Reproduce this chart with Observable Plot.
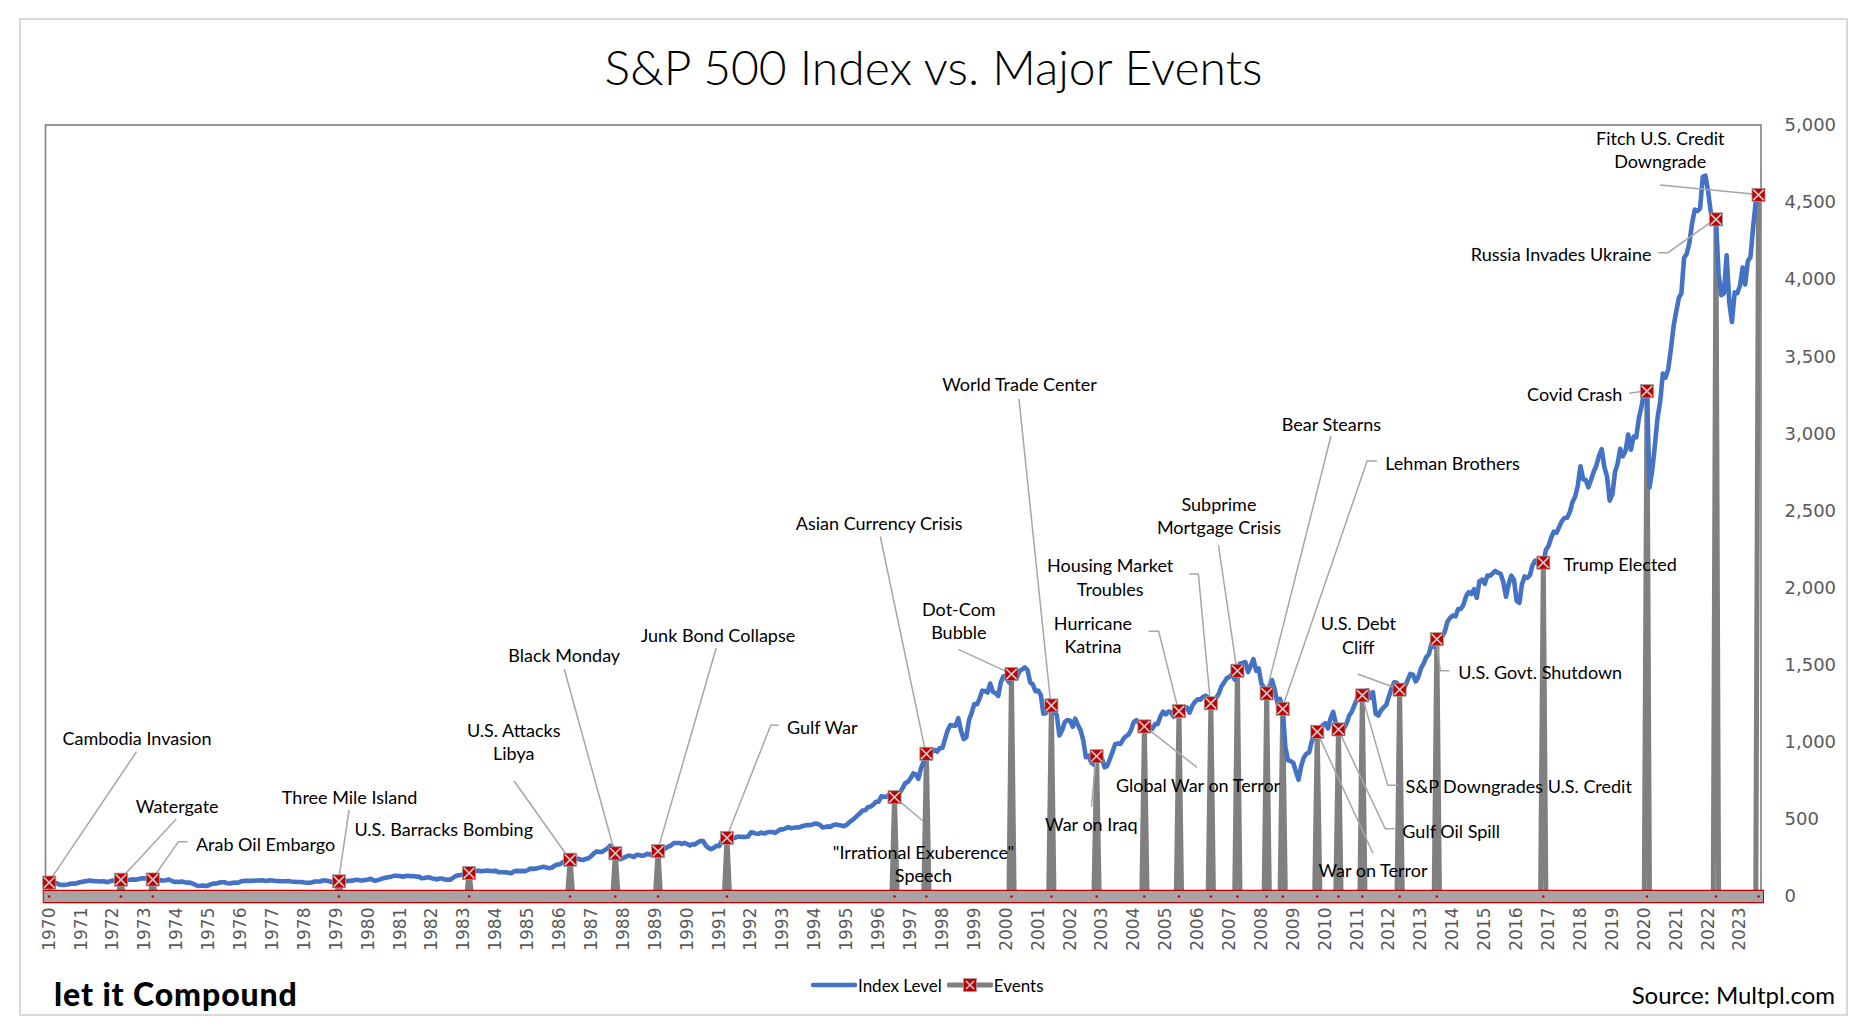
<!DOCTYPE html>
<html>
<head>
<meta charset="utf-8">
<script src="https://cdn.jsdelivr.net/npm/d3@7"></script>
<script src="https://cdn.jsdelivr.net/npm/@observablehq/plot@0.6"></script>
<style>
  html, body { margin: 0; padding: 0; background: #fff; overflow: hidden; }
  #page { position: relative; width: 1867px; height: 1027px; background: #fff; font-family: Lato, "Open Sans", sans-serif; }
  #border { position: absolute; left: 19px; top: 18px; width: 1829px; height: 998px; border: 2px solid #d9d9d9; box-sizing: border-box; }
  #title { position: absolute; left: 0; top: 43px; width: 1867px; text-align: center; font: 300 48px/1 Lato, sans-serif; color: #000; white-space: nowrap; }
  #chart { position: absolute; left: 0; top: 100px; }
  #legend { position: absolute; left: 811px; top: 974px; height: 22px; display: flex; align-items: center; font: 400 17px/1 Lato, sans-serif; color: #000; white-space: nowrap; }
  #logo { position: absolute; left: 54px; top: 978px; font: 900 32px/1 Lato, sans-serif; color: #000; letter-spacing: 0.9px; white-space: nowrap; }
  #source { position: absolute; right: 32px; top: 983px; font: 400 24px/1 Lato, sans-serif; color: #000; white-space: nowrap; }
</style>
</head>
<body>
<div id="page">
  <div id="border"></div>
  <div id="title">S&amp;P 500 Index vs. Major Events</div>
  <div id="chart"></div>
  <div id="legend">
    <svg width="46" height="22"><line x1="2" y1="11" x2="44" y2="11" stroke="#4472C4" stroke-width="4.5" stroke-linecap="round"/></svg>
    <span style="margin-left:1px">Index Level</span>
    <svg width="46" height="22" style="margin-left:5px"><line x1="2" y1="11" x2="44" y2="11" stroke="#808080" stroke-width="5" stroke-linecap="round"/><rect x="16.5" y="4.5" width="13" height="13" fill="#c00000" stroke="#a0a0a0" stroke-width="0.8"/><path d="M19 7 L27 15 M27 7 L19 15" stroke="#c8c8c8" stroke-width="1.6"/></svg>
    <span style="margin-left:1px">Events</span>
  </div>
  <div id="logo">let it Compound</div>
  <div id="source">Source: Multpl.com</div>
</div>
<script>
// ---------------- DATA (monthly S&P 500 levels) ----------------
const startYear = 1970;
const sp1970s = [
  90.3, 87.2, 88.7, 85.9, 76.1, 75.6, 75.7, 77.9, 82.6, 84.4, 83.3, 90.0,
  93.5, 97.1, 99.6, 103.0, 101.6, 99.7, 99.0, 97.2, 99.4, 97.3, 92.8, 99.2,
  103.3, 105.2, 107.7, 108.8, 107.7, 108.0, 107.2, 111.0, 109.4, 109.6, 115.1, 117.5,
  118.4, 114.2, 112.4, 110.3, 107.2, 104.8, 105.8, 103.8, 105.6, 109.8, 102.0, 94.8,
  96.1, 93.5, 97.4, 92.5, 89.7, 89.8, 82.8, 76.0, 68.1, 69.4, 71.7, 67.1,
  72.6, 80.1, 83.8, 84.7, 90.1, 92.4, 92.5, 85.7, 84.7, 88.6, 90.1, 88.7,
  96.9, 100.6, 101.1, 101.9, 101.2, 101.8, 104.2, 103.3, 105.5, 101.9, 101.2, 104.7,
  103.8, 101.0, 100.6, 99.1, 98.8, 99.3, 100.2, 97.8, 96.2, 93.7, 94.3, 93.8,
  90.3, 89.0, 88.8, 92.7, 97.4, 97.7, 97.2, 103.9, 103.9, 100.6, 94.7, 96.1,
  99.7, 98.2, 100.1, 102.1, 99.7, 101.7, 102.7, 107.4, 108.6, 104.5, 103.7, 107.8
];
const sp1980s = [
  110.9, 115.3, 104.7, 103.0, 107.7, 114.6, 119.8, 123.5, 126.5, 130.2, 135.7, 133.5,
  133.0, 128.4, 133.2, 134.4, 131.7, 132.3, 129.1, 129.6, 118.3, 119.8, 122.9, 123.8,
  117.3, 114.5, 110.8, 116.3, 116.4, 109.7, 109.4, 109.7, 122.4, 132.7, 138.1, 139.4,
  144.3, 146.8, 151.9, 157.7, 164.1, 166.4, 166.0, 163.6, 167.0, 167.7, 165.2, 164.4,
  166.4, 157.3, 157.4, 157.6, 156.6, 153.1, 151.1, 164.4, 166.1, 164.8, 166.3, 164.5,
  171.6, 180.9, 179.4, 180.6, 184.9, 188.9, 192.5, 188.3, 184.1, 186.2, 197.5, 207.3,
  208.2, 219.4, 232.3, 238.0, 238.5, 245.3, 240.2, 245.0, 238.3, 237.4, 245.1, 248.6,
  264.5, 280.9, 292.5, 289.3, 289.1, 301.4, 310.1, 329.4, 318.7, 280.2, 245.0, 241.0,
  250.5, 258.1, 265.7, 262.6, 256.1, 270.7, 269.1, 263.7, 268.0, 277.4, 271.0, 276.5,
  285.4, 294.0, 292.7, 302.3, 313.9, 323.7, 331.9, 346.6, 347.3, 347.4, 340.2, 348.6
];
const sp1990s = [
  340.0, 330.5, 338.5, 338.2, 350.3, 360.4, 360.0, 330.8, 315.4, 307.1, 315.3, 328.8,
  325.5, 362.3, 372.3, 379.7, 378.0, 378.3, 380.2, 389.4, 387.2, 386.9, 385.9, 388.5,
  416.1, 412.6, 407.4, 407.4, 414.8, 408.3, 415.1, 417.9, 418.5, 412.5, 422.8, 435.6,
  435.2, 441.7, 450.2, 443.1, 445.3, 448.1, 447.3, 454.1, 459.2, 463.9, 462.9, 466.0,
  473.0, 471.6, 463.8, 447.2, 450.9, 454.8, 451.4, 464.2, 467.0, 463.8, 461.0, 455.2,
  465.3, 481.9, 493.2, 507.9, 523.8, 539.4, 557.4, 559.1, 578.8, 582.9, 595.5, 614.6,
  614.4, 649.5, 647.1, 647.2, 661.2, 668.5, 644.1, 662.7, 674.9, 701.5, 735.7, 743.3,
  766.2, 798.4, 792.2, 763.9, 833.1, 876.3, 925.3, 927.7, 937.0, 951.2, 938.9, 962.4,
  963.4, 1023.7, 1076.8, 1112.2, 1108.4, 1108.4, 1156.6, 1074.6, 1020.6, 1032.5, 1144.4, 1190.1,
  1248.8, 1246.6, 1281.7, 1334.8, 1332.1, 1322.6, 1381.0, 1327.5, 1318.2, 1300.0, 1391.0, 1428.7
];
const sp2000s = [
  1425.6, 1388.9, 1442.2, 1461.4, 1418.5, 1462.0, 1473.0, 1485.5, 1468.1, 1390.1, 1375.0, 1330.9,
  1335.6, 1305.8, 1185.9, 1189.8, 1270.4, 1238.7, 1204.5, 1178.5, 1044.6, 1076.6, 1129.7, 1144.9,
  1140.2, 1100.7, 1153.8, 1112.0, 1079.3, 1014.1, 903.6, 912.6, 867.8, 854.6, 909.9, 899.2,
  895.8, 837.6, 846.6, 890.0, 936.0, 988.0, 992.5, 989.5, 1019.4, 1038.7, 1049.9, 1080.6,
  1132.5, 1143.4, 1124.0, 1133.1, 1102.8, 1132.8, 1105.9, 1088.9, 1117.7, 1118.1, 1168.9, 1199.2,
  1181.4, 1199.6, 1194.9, 1164.4, 1178.3, 1202.3, 1222.2, 1224.3, 1225.9, 1192.0, 1237.4, 1262.1,
  1278.7, 1276.7, 1293.7, 1302.2, 1290.0, 1253.1, 1260.2, 1287.2, 1317.8, 1363.4, 1388.6, 1416.4,
  1424.2, 1444.8, 1407.0, 1463.7, 1511.1, 1514.5, 1520.7, 1454.6, 1497.1, 1539.7, 1463.4, 1479.2,
  1378.8, 1354.9, 1316.9, 1370.5, 1403.2, 1341.3, 1257.3, 1281.5, 1217.0, 968.8, 883.0, 877.6,
  865.6, 805.2, 757.1, 848.2, 902.4, 926.1, 935.8, 1009.7, 1044.6, 1067.7, 1088.1, 1110.4
];
const sp2010s = [
  1123.6, 1089.2, 1152.1, 1197.3, 1125.1, 1083.4, 1079.8, 1087.3, 1122.1, 1171.6, 1198.9, 1241.5,
  1282.6, 1321.1, 1304.5, 1331.5, 1338.3, 1287.3, 1325.2, 1185.3, 1173.9, 1207.2, 1226.4, 1243.3,
  1300.6, 1352.5, 1389.2, 1386.4, 1341.3, 1323.5, 1359.8, 1403.4, 1443.4, 1437.8, 1394.5, 1422.3,
  1480.4, 1512.3, 1550.8, 1570.7, 1639.8, 1618.8, 1668.7, 1670.1, 1687.2, 1720.0, 1783.5, 1807.8,
  1822.4, 1817.0, 1863.5, 1864.3, 1889.8, 1947.1, 1973.1, 1961.5, 1993.2, 1937.3, 2044.6, 2054.3,
  2028.2, 2082.2, 2080.0, 2094.9, 2111.9, 2099.3, 2094.1, 2039.9, 1944.4, 2024.8, 2080.6, 2054.1,
  1918.6, 1904.4, 2022.0, 2075.5, 2065.6, 2083.9, 2148.9, 2177.5, 2157.7, 2143.0, 2165.0, 2246.6,
  2275.1, 2329.9, 2366.8, 2359.3, 2395.4, 2434.0, 2454.1, 2456.2, 2492.8, 2557.0, 2593.6, 2664.3,
  2789.8, 2705.2, 2702.8, 2653.6, 2701.5, 2754.4, 2793.6, 2857.8, 2901.5, 2785.5, 2723.2, 2567.3,
  2607.4, 2754.9, 2804.0, 2903.8, 2854.7, 2890.2, 2996.1, 2897.5, 2982.2, 2977.7, 3104.9, 3176.8
];
const sp2020s = [
  3278.2, 3277.3, 2652.4, 2762.0, 2919.6, 3104.7, 3207.6, 3391.7, 3365.5, 3418.7, 3549.0, 3695.3,
  3793.8, 3883.4, 3910.5, 4141.2, 4167.9, 4238.5, 4363.7, 4454.2, 4445.5, 4460.7, 4667.4, 4674.8,
  4573.8, 4436.0, 4391.3, 4391.3, 4040.4, 3899.0, 3911.7, 4158.6, 3850.5, 3726.1, 3917.5, 3912.4,
  3960.7, 4079.7, 3968.6, 4121.5, 4146.2, 4345.4, 4508.1, 4550.0
];

const eventLabels = [
  "Cambodia Invasion", "Watergate", "Arab Oil Embargo", "Three Mile Island", "U.S. Barracks Bombing",
  "U.S. Attacks\nLibya", "Black Monday", "Junk Bond Collapse", "Gulf War", "\"Irrational Exuberence\"\nSpeech",
  "Asian Currency Crisis", "Dot-Com\nBubble", "World Trade Center", "War on Iraq", "Global War on Terror",
  "Hurricane\nKatrina", "Housing Market\nTroubles", "Subprime\nMortgage Crisis", "Bear Stearns", "Lehman Brothers",
  "War on Terror", "Gulf Oil Spill", "S&P Downgrades U.S. Credit", "U.S. Debt\nCliff", "U.S. Govt. Shutdown",
  "Trump Elected", "Covid Crash", "Russia Invades Ukraine", "Fitch U.S. Credit\nDowngrade"
];
const eventMonths = [
  "1970-01", "1972-04", "1973-04", "1979-02", "1983-03",
  "1986-05", "1987-10", "1989-02", "1991-04", "1996-07",
  "1997-07", "2000-03", "2001-06", "2002-11", "2004-05",
  "2005-06", "2006-06", "2007-04", "2008-03", "2008-09",
  "2009-10", "2010-06", "2011-03", "2012-05", "2013-07",
  "2016-11", "2020-02", "2022-04", "2023-08"
];
const yTickValues = [0, 500, 1000, 1500, 2000, 2500, 3000, 3500, 4000, 4500, 5000];

// ---------------- LAYOUT (label placement offsets in px, relative to each event marker) ----------------
const labelAnchor = ["middle","middle","start","middle","middle","middle","middle","middle","start","middle",
  "middle","middle","middle","middle","start","middle","middle","middle","middle","start",
  "start","start","start","middle","start","start","end","end","middle"];
const labelOffset = [
  [87.8,-145.1],[56.3,-74.2],[43.1,-36.3],[10.6,-85.2],[-25.3,-44.3],
  [-56.4,-118.9],[-51.1,-198.8],[59.9,-216.7],[59.9,-111.8],[29,65.8],
  [-47.2,-231],[-52.6,-54.2],[-31.9,-321.7],[-5.3,67.6],[-28.5,58.4],
  [-86.1,-77.1],[-100.7,-127.1],[-18.5,-155.8],[64.8,-270.3],[102.5,-246.7],
  [1.2,137.9],[63.9,101.1],[43.3,90.5],[-41.3,-55],[21.5,32.6],
  [20.2,0.3],[-24.6,2.7],[-64.5,34.4],[-98.2,-46.1]
];
const leaderPoints = [
  [[87.9,-130.4]], [[55.8,-60.2]], [[26.2,-37.3],[35.1,-37.3]], [[10.6,-70.9]], [],
  [[-55.5,-78.2]], [[-50.6,-183.8]], [[58.6,-202.7]], [[44.3,-112.2],[51.9,-112.2]], [[29,24.3]],
  [[-45.6,-216.8]], [[-52.6,-24.3]], [[-31.9,-306]], [[-4.6,51]], [[53.1,41.4]],
  [[-19.8,-79.3],[-29.8,-79.3]], [[-12,-128.8],[-21.2,-128.8]], [[-18.5,-125.3]], [[64.8,-256.9]], [[84.9,-247.4],[94.7,-247.4]],
  [[56.2,121.9]], [[47.3,99.8],[56.6,99.8]], [[25.9,90.5],[35.9,90.5]], [[-41.3,-15.2]], [[3.9,32],[13.2,32]],
  [], [[-17.3,2.7]], [[-47.5,33.8],[-57.2,33.8]], [[-98.2,-9.4]]
];

// ---------------- BUILD TABLES ----------------
const levels = [].concat(sp1970s, sp1980s, sp1990s, sp2000s, sp2010s, sp2020s);
const index = levels.map((v, i) => ({ date: new Date(Date.UTC(startYear + Math.floor(i / 12), i % 12, 1)), value: v }));
const key = d => d.toISOString().slice(0, 7);
const byMonth = new Map(index.map(d => [key(d.date), d]));
const events = eventMonths.map((m, i) => ({ date: byMonth.get(m).date, value: byMonth.get(m).value, label: eventLabels[i], i }));
const eventByMonth = new Map(events.map(e => [key(e.date), e]));
const eventSeries = index.map(d => ({ date: d.date, value: eventByMonth.has(key(d.date)) ? d.value : 0 }));
const firstDate = index[0].date, lastDate = index[index.length - 1].date;
const yearTicks = d3.utcYear.range(new Date(Date.UTC(1970, 0, 1)), new Date(Date.UTC(2024, 0, 1)));

const labelFont = "Lato, 'Open Sans', sans-serif";

function leaderMark(idx, scales) {
  const g = d3.create("svg:g").attr("fill", "none").attr("stroke", "#a6a6a6").attr("stroke-width", 1.5);
  events.forEach((e, i) => {
    const pts = leaderPoints[i];
    if (!pts.length) return;
    const x0 = scales.x(e.date), y0 = scales.y(e.value);
    const line = [[x0, y0], ...pts.map(([dx, dy]) => [x0 + dx, y0 + dy])];
    g.append("path").attr("d", d3.line()(line));
  });
  return g.node();
}

const labelMarks = events.map((e, i) => Plot.text([e], {
  x: "date", y: "value", text: "label",
  dx: labelOffset[i][0], dy: labelOffset[i][1],
  textAnchor: labelAnchor[i], lineAnchor: "middle", lineHeight: 1.32,
  fontSize: 18, fontFamily: labelFont, fill: "#000"
}));

const chart = Plot.plot({
  width: 1867, height: 870,
  marginLeft: 48.7, marginRight: 109, marginTop: 25, marginBottom: 74,
  x: { type: "utc", domain: [firstDate, lastDate], axis: null },
  y: { domain: [0, 5000], axis: null },
  style: { fontFamily: labelFont, fontSize: "18px", background: "transparent", overflow: "visible" },
  marks: [
    Plot.frame({ stroke: "#7f7f7f", strokeWidth: 1.6, insetLeft: -3.7, insetRight: -2.5, insetTop: -0.5 }),
    Plot.line(eventSeries, { x: "date", y: "value", stroke: "#808080", strokeWidth: 5, strokeLinejoin: "round" }),
    Plot.line(index, { x: "date", y: "value", stroke: "#4472C4", strokeWidth: 4.6, strokeLinejoin: "round", strokeLinecap: "round" }),
    Plot.ruleY([0], { x1: () => firstDate, x2: () => lastDate, stroke: "#c00000", strokeWidth: 13.5, insetLeft: -6, insetRight: -6 }),
    Plot.ruleY([0], { x1: () => firstDate, x2: () => lastDate, stroke: "#aaa3a3", strokeWidth: 11, insetLeft: -5, insetRight: -5 }),
    Plot.dot(events, { x: "date", y: () => 0, r: 1.3, fill: "#d00000" }),
    leaderMark,
    Plot.dot(events, { x: "date", y: "value", symbol: "square", r: 7.4, fill: "#c00000", stroke: "#a0a0a0", strokeWidth: 0.8 }),
    Plot.dot(events, { x: "date", y: "value", symbol: "times", r: 4.9, stroke: "#c8c8c8", strokeWidth: 1.7 }),
    ...labelMarks,
    Plot.axisX({ ticks: yearTicks, tickFormat: d3.utcFormat("%Y"), tickRotate: -90, tickSize: 0, tickPadding: 11,
      fontSize: 17, fontFamily: "'DejaVu Sans', sans-serif", fill: "#595959", label: null, anchor: "bottom" }),
    Plot.axisY({ ticks: yTickValues, tickFormat: d3.format(","), anchor: "right", tickSize: 0, tickPadding: 26,
      fontSize: 18, fontFamily: "'DejaVu Sans', sans-serif", fill: "#595959", label: null })
  ]
});
document.getElementById("chart").appendChild(chart);
</script>
</body>
</html>
